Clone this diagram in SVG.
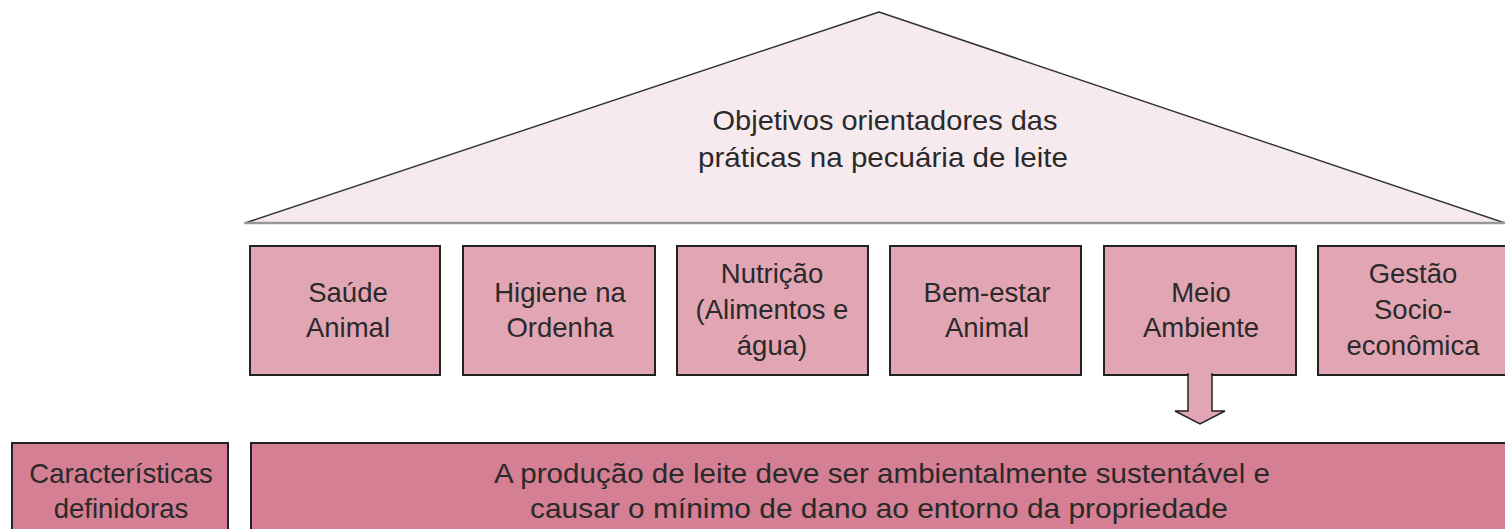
<svg xmlns="http://www.w3.org/2000/svg" width="1505" height="529" viewBox="0 0 1505 529">
<style>
text{font-family:"Liberation Sans",Arial,sans-serif;font-size:27.5px;fill:#2a2a2a;text-anchor:middle}
.obj{fill:#e2a5b4;stroke:#222;stroke-width:2}
.dark{fill:#d47f93;stroke:#222;stroke-width:2}
</style>
<rect width="1505" height="529" fill="#fff"/>
<g id="roof">
<polygon points="245,223 879,12 1505,223" fill="#f7eaee" stroke="#333" stroke-width="1.5" stroke-linejoin="round"/>
<line x1="245" y1="223" x2="1505" y2="223" stroke="#999" stroke-width="2.5"/>
<text x="885" y="130" textLength="345" lengthAdjust="spacingAndGlyphs">Objetivos orientadores das</text>
<text x="883" y="167" textLength="370" lengthAdjust="spacingAndGlyphs">práticas na pecuária de leite</text>
</g>
<g id="saude"><rect class="obj" x="250" y="246" width="190" height="129"/><text x="348" y="302">Saúde</text><text x="348" y="337">Animal</text></g>
<g id="higiene"><rect class="obj" x="463" y="246" width="192" height="129"/><text x="560" y="302">Higiene na</text><text x="560" y="337">Ordenha</text></g>
<g id="nutricao"><rect class="obj" x="677" y="246" width="191" height="129"/><text x="772" y="283">Nutrição</text><text x="772" y="319">(Alimentos e</text><text x="772" y="355">água)</text></g>
<g id="bemestar"><rect class="obj" x="890" y="246" width="191" height="129"/><text x="987" y="302">Bem-estar</text><text x="987" y="337">Animal</text></g>
<g id="meio"><rect class="obj" x="1104" y="246" width="192" height="129"/><text x="1201" y="302">Meio</text><text x="1201" y="337">Ambiente</text></g>
<g id="gestao"><rect class="obj" x="1318" y="246" width="200" height="129"/><text x="1413" y="283">Gestão</text><text x="1413" y="319">Socio-</text><text x="1413" y="355">econômica</text></g>
<g id="connectors">
<polygon points="1188,374 1212,374 1212,411 1225,411 1200,424 1175,411 1188,411" fill="#e2a5b4" stroke="#222" stroke-width="1.5" stroke-linejoin="miter"/>
<rect x="1189" y="373" width="22" height="3" fill="#e2a5b4"/>
</g>
<g id="caracteristicas"><rect class="dark" x="12" y="443" width="216" height="100"/><text x="121" y="483">Características</text><text x="121" y="518">definidoras</text></g>
<g id="producao"><rect class="dark" x="251" y="443" width="1270" height="100"/><text x="882" y="483" textLength="776" lengthAdjust="spacingAndGlyphs">A produção de leite deve ser ambientalmente sustentável e</text><text x="879" y="518" textLength="698" lengthAdjust="spacingAndGlyphs">causar o mínimo de dano ao entorno da propriedade</text></g>
</svg>
